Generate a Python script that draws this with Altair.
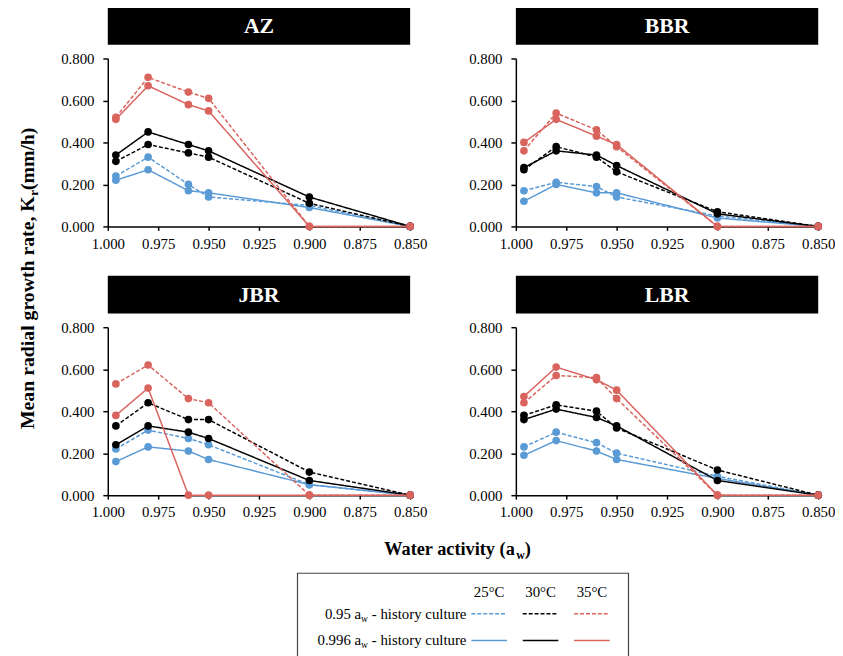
import altair as alt
import pandas as pd

# ---------------- data ----------------
aw = [0.996, 0.980, 0.960, 0.950, 0.900, 0.850]
temps = ["25°C", "30°C", "35°C"]
histories = ["0.95", "0.996"]
panels = ["AZ", "BBR", "JBR", "LBR"]
x_ticks = [1.000, 0.975, 0.950, 0.925, 0.900, 0.875, 0.850]
y_ticks = [0.0, 0.2, 0.4, 0.6, 0.8]

az_25_h095 = [0.24, 0.33, 0.20, 0.14, 0.10, 0.0]
az_25_h0996 = [0.22, 0.27, 0.17, 0.16, 0.09, 0.0]
az_30_h095 = [0.31, 0.39, 0.35, 0.33, 0.11, 0.0]
az_30_h0996 = [0.34, 0.45, 0.39, 0.36, 0.14, 0.0]
az_35_h095 = [0.52, 0.71, 0.64, 0.61, 0.0, 0.0]
az_35_h0996 = [0.51, 0.67, 0.58, 0.55, 0.0, 0.0]

bbr_25_h095 = [0.17, 0.21, 0.19, 0.14, 0.05, 0.0]
bbr_25_h0996 = [0.12, 0.20, 0.16, 0.16, 0.04, 0.0]
bbr_30_h095 = [0.27, 0.38, 0.33, 0.26, 0.07, 0.0]
bbr_30_h0996 = [0.28, 0.36, 0.34, 0.29, 0.06, 0.0]
bbr_35_h095 = [0.36, 0.54, 0.46, 0.38, 0.0, 0.0]
bbr_35_h0996 = [0.40, 0.51, 0.43, 0.39, 0.0, 0.0]

jbr_25_h095 = [0.22, 0.31, 0.27, 0.24, 0.05, 0.0]
jbr_25_h0996 = [0.16, 0.23, 0.21, 0.17, 0.05, 0.0]
jbr_30_h095 = [0.33, 0.44, 0.36, 0.36, 0.11, 0.0]
jbr_30_h0996 = [0.24, 0.33, 0.30, 0.27, 0.07, 0.0]
jbr_35_h095 = [0.53, 0.62, 0.46, 0.44, 0.0, 0.0]
jbr_35_h0996 = [0.38, 0.51, 0.0, 0.0, 0.0, 0.0]

lbr_25_h095 = [0.23, 0.30, 0.25, 0.20, 0.09, 0.0]
lbr_25_h0996 = [0.19, 0.26, 0.21, 0.17, 0.08, 0.0]
lbr_30_h095 = [0.38, 0.43, 0.40, 0.32, 0.12, 0.0]
lbr_30_h0996 = [0.36, 0.41, 0.37, 0.33, 0.07, 0.0]
lbr_35_h095 = [0.44, 0.57, 0.56, 0.46, 0.0, 0.0]
lbr_35_h0996 = [0.47, 0.61, 0.55, 0.50, 0.0, 0.0]

series = {
    "AZ": [az_25_h095, az_25_h0996, az_30_h095, az_30_h0996, az_35_h095, az_35_h0996],
    "BBR": [bbr_25_h095, bbr_25_h0996, bbr_30_h095, bbr_30_h0996, bbr_35_h095, bbr_35_h0996],
    "JBR": [jbr_25_h095, jbr_25_h0996, jbr_30_h095, jbr_30_h0996, jbr_35_h095, jbr_35_h0996],
    "LBR": [lbr_25_h095, lbr_25_h0996, lbr_30_h095, lbr_30_h0996, lbr_35_h095, lbr_35_h0996],
}

rows = []
for p in panels:
    k = 0
    for t in temps:
        for h in histories:
            vals = series[p][k]
            k += 1
            for a, v in zip(aw, vals):
                rows.append({"isolate": p, "temp": t, "history": h,
                             "series": t + "|" + h, "aw": a, "rate": v})
df = pd.DataFrame(rows)

# ---------------- style ----------------
FONT = "Liberation Serif"
COLORS = ["#5B9BD5", "#000000", "#D9645E"]
DASHES = [[4, 2], [1, 0]]
W, H = 306, 170

TIMES_R = {" ": 250, ".": 250, "-": 333, "°": 400, "C": 667, "a": 444, "c": 444,
           "e": 444, "h": 500, "i": 278, "l": 278, "o": 500, "r": 333, "s": 389,
           "t": 278, "u": 500, "w": 722, "y": 500}
TIMES_B = {" ": 250, "(": 333, ")": 333, ",": 250, "/": 278, "K": 778, "M": 944,
           "W": 1000, "a": 500, "c": 444, "d": 556, "e": 444, "g": 500, "h": 556,
           "i": 278, "l": 278, "m": 833, "n": 556, "o": 500, "r": 444, "t": 333,
           "u": 556, "v": 500, "w": 722, "y": 500}


def tw(s, size, table):
    return sum(table.get(c, 500) for c in s) * size / 1000.0


color_enc = alt.Color("temp:N", scale=alt.Scale(domain=temps, range=COLORS), legend=None)
dash_enc = alt.StrokeDash("history:N", scale=alt.Scale(domain=histories, range=DASHES), legend=None)


def panel(name):
    d = df[df.isolate == name]
    base = alt.Chart(d)
    x = alt.X("aw:Q",
              scale=alt.Scale(domain=[0.85, 1.0], reverse=True, nice=False, zero=False),
              axis=alt.Axis(values=x_ticks, format=".3f", title=None, labelFlush=False,
                            labelOverlap=False, tickSize=4, labelPadding=6))
    y = alt.Y("rate:Q", scale=alt.Scale(domain=[0, 0.8], nice=False),
              axis=alt.Axis(values=y_ticks, format=".3f", title=None, tickSize=5,
                            labelPadding=9))
    lines = base.mark_line(strokeWidth=1.5).encode(x=x, y=y, color=color_enc,
                                                   strokeDash=dash_enc, detail="series:N")
    pts = base.mark_point(filled=True, size=60, opacity=1).encode(
        x=x, y=y, color=color_enc, detail="series:N")
    hd = pd.DataFrame({"name": [name]})
    rect = alt.Chart(hd).mark_rect(color="black").encode(
        x=alt.value(0), x2=alt.value(W), y=alt.value(-52), y2=alt.value(-14))
    txt = alt.Chart(hd).mark_text(font=FONT, fontSize=22, fontWeight="bold", color="white",
                                  baseline="middle", align="center").encode(
        x=alt.value(W / 2), y=alt.value(-33), text="name:N")
    return alt.layer(rect, txt, lines, pts).properties(width=W, height=H)


# ---------------- y title (rotated, with subscript) ----------------
YT = 20
ya, yb, yc = "Mean radial growth rate, K", "r", " (mm/h)"
wa, wb, wc = tw(ya, YT, TIMES_B), tw(yb, YT * 0.65, TIMES_B), tw(yc, YT, TIMES_B)
ycen = 220
ystart = ycen + (wa + wb + wc) / 2
one = pd.DataFrame({"k": [0]})
yt_layers = [
    alt.Chart(one).mark_text(text=ya, font=FONT, fontSize=YT, fontWeight="bold", angle=270,
                             align="left", baseline="middle").encode(
        x=alt.value(20), y=alt.value(ystart)),
    alt.Chart(one).mark_text(text=yb, font=FONT, fontSize=YT * 0.65, fontWeight="bold",
                             angle=270, align="left", baseline="middle", dy=6).encode(
        x=alt.value(20), y=alt.value(ystart - wa)),
    alt.Chart(one).mark_text(text=yc, font=FONT, fontSize=YT, fontWeight="bold", angle=270,
                             align="left", baseline="middle").encode(
        x=alt.value(20), y=alt.value(ystart - wa - wb)),
]
ytitle = alt.layer(*yt_layers).properties(width=24, height=440)

# ---------------- bottom: x title + legend ----------------
X0 = 102  # approx absolute x of this block's origin
XT = 18.5
xa, xb, xc = "Water activity (a", "w", ")"
xwa, xwb, xwc = tw(xa, XT, TIMES_B), tw(xb, XT * 0.65, TIMES_B), tw(xc, XT, TIMES_B)
xcen = 456 - X0
xstart = xcen - (xwa + xwb + xwc) / 2
xt_y = 12
bottom_layers = [
    alt.Chart(one).mark_text(text=xa, font=FONT, fontSize=XT, fontWeight="bold",
                             align="left", baseline="middle").encode(
        x=alt.value(xstart), y=alt.value(xt_y)),
    alt.Chart(one).mark_text(text=xb, font=FONT, fontSize=XT * 0.65, fontWeight="bold",
                             align="left", baseline="middle", dy=6).encode(
        x=alt.value(xstart + xwa), y=alt.value(xt_y)),
    alt.Chart(one).mark_text(text=xc, font=FONT, fontSize=XT, fontWeight="bold",
                             align="left", baseline="middle").encode(
        x=alt.value(xstart + xwa + xwb), y=alt.value(xt_y)),
]

# legend box
bottom_layers.append(
    alt.Chart(one).mark_rect(fill="white", stroke="#444444", strokeWidth=1.2).encode(
        x=alt.value(294 - X0), x2=alt.value(629 - X0), y=alt.value(36), y2=alt.value(140)))

LF = 15
leg = pd.DataFrame([{"temp": t, "history": h} for t in temps for h in histories])
lx = alt.X("temp:N", scale=alt.Scale(type="point", domain=temps, padding=0,
                                     range=[488 - X0, 592 - X0]), axis=None)
ly = alt.Y("history:N", scale=alt.Scale(type="point", domain=histories, padding=0,
                                        range=[77, 104]), axis=None)
bottom_layers.append(
    alt.Chart(leg).mark_rule(strokeWidth=1.5, xOffset=-18, x2Offset=18).encode(
        x=lx, x2=alt.X2("temp:N"), y=ly, color=color_enc, strokeDash=dash_enc))
tleg = pd.DataFrame({"temp": temps})
bottom_layers.append(
    alt.Chart(tleg).mark_text(font=FONT, fontSize=LF, baseline="middle", align="center").encode(
        x=lx, y=alt.value(55), text="temp:N"))
suffix = " - history culture"
swc = tw(suffix, LF, TIMES_R)
swb = tw("w", LF * 0.65, TIMES_R)
hleg = pd.DataFrame({"history": histories, "prefix": [h + " a" for h in histories]})
right = 465 - X0
bottom_layers += [
    alt.Chart(hleg).mark_text(font=FONT, fontSize=LF, baseline="middle", align="right").encode(
        x=alt.value(right - swc - swb), y=ly, text="prefix:N"),
    alt.Chart(hleg).mark_text(text="w", font=FONT, fontSize=LF * 0.65, baseline="middle",
                              align="right", dy=5).encode(
        x=alt.value(right - swc), y=ly),
    alt.Chart(hleg).mark_text(text=suffix, font=FONT, fontSize=LF, baseline="middle",
                              align="right").encode(
        x=alt.value(right), y=ly),
]
bottom = alt.layer(*bottom_layers).properties(width=600, height=140)

row1 = alt.hconcat(panel("AZ"), panel("BBR"), spacing=42)
row2 = alt.hconcat(panel("JBR"), panel("LBR"), spacing=42)
grid = alt.vconcat(row1, row2, spacing=25)
main = alt.vconcat(grid, bottom, spacing=18)

chart = alt.hconcat(ytitle, main, spacing=20).properties(
    padding={"left": 0, "top": -5, "right": 0, "bottom": 0}, background="white"
).configure_view(stroke=None).configure_axis(
    labelFont=FONT, labelFontSize=15, labelColor="black", domainColor="black",
    domainWidth=1.5, tickColor="black", tickWidth=1.5, grid=False
)

chart.save("out.html", embed_options={"renderer": "svg", "actions": False})
